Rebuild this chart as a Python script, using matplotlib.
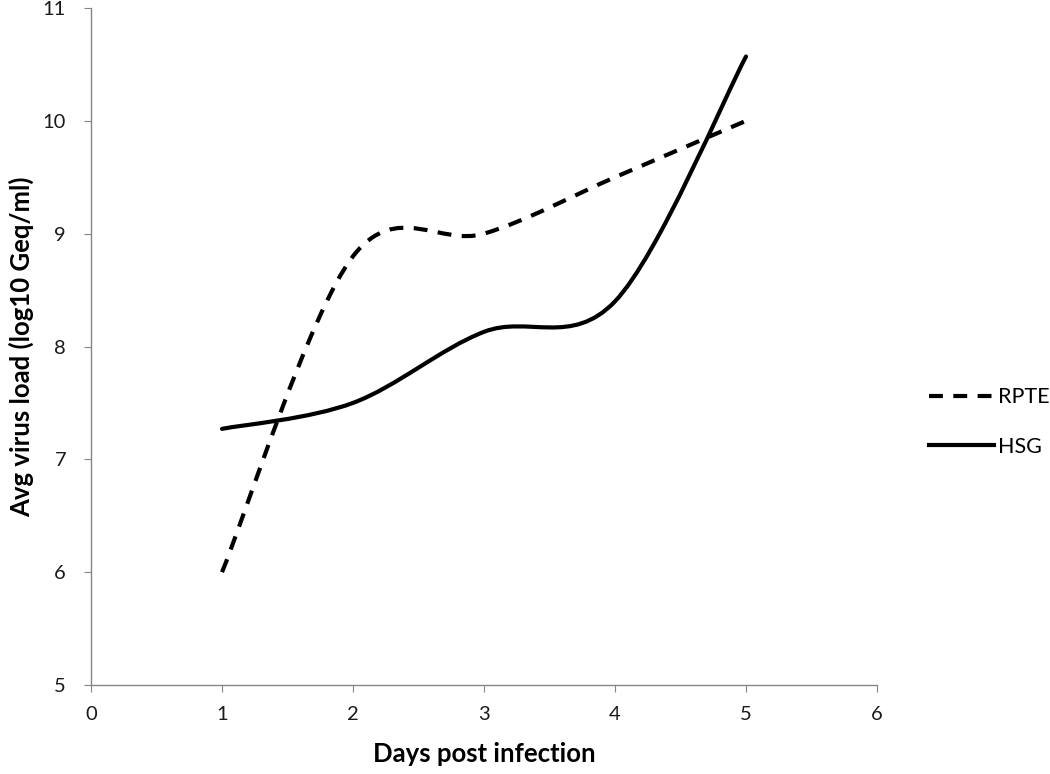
import matplotlib
matplotlib.use("Agg")
import matplotlib.pyplot as plt
from matplotlib.path import Path
from matplotlib.patches import PathPatch
from matplotlib.lines import Line2D

days = [1, 2, 3, 4, 5]
rpte = [6.0, 8.8, 9.0, 9.5, 10.0]
hsg = [7.27, 7.5, 8.13, 8.4, 10.57]

plt.rcParams['font.family'] = ['Lato', 'DejaVu Sans']
plt.rcParams['lines.scale_dashes'] = False


# smooth line like Excel's "smoothed line" (Catmull-Rom as bezier segments)
def smooth_path(xs, ys):
    pts = list(zip(xs, ys))
    verts = [pts[0]]
    codes = [Path.MOVETO]
    n = len(pts)
    for i in range(n - 1):
        p0 = pts[i - 1] if i > 0 else pts[i]
        p1 = pts[i]
        p2 = pts[i + 1]
        p3 = pts[i + 2] if i + 2 < n else pts[i + 1]
        c1 = (p1[0] + (p2[0] - p0[0]) / 6, p1[1] + (p2[1] - p0[1]) / 6)
        c2 = (p2[0] - (p3[0] - p1[0]) / 6, p2[1] - (p3[1] - p1[1]) / 6)
        verts += [c1, c2, p2]
        codes += [Path.CURVE4] * 3
    return Path(verts, codes)


fig = plt.figure(figsize=(10.5, 7.74), dpi=100)
ax = fig.add_axes([91 / 1050, 1 - 685 / 774, (877 - 91) / 1050, (685 - 8) / 774])

dash = (0, (10, 7.5))
ax.add_patch(PathPatch(smooth_path(days, rpte), fill=False, lw=3.0,
                       edgecolor='black', linestyle=dash, capstyle='butt'))
ax.add_patch(PathPatch(smooth_path(days, hsg), fill=False, lw=3.0,
                       edgecolor='black', capstyle='round'))

ax.set_xlim(0, 6)
ax.set_ylim(5, 11)
ax.set_xticks(range(0, 7))
ax.set_yticks(range(5, 12))

for s in ['top', 'right']:
    ax.spines[s].set_visible(False)
for s in ['left', 'bottom']:
    ax.spines[s].set_color('#868686')
    ax.spines[s].set_linewidth(1.0)
ax.tick_params(direction='out', length=5, color='#868686', labelsize=14.5,
               labelcolor='#1a1a1a')
ax.tick_params(axis='x', pad=10)
ax.tick_params(axis='y', pad=13)

ax.set_xlabel("Days post infection", fontsize=18.5, fontweight='bold', labelpad=14)
ax.set_ylabel("Avg virus load (log10 Geq/ml)", fontsize=18.5, fontweight='bold', labelpad=6)

handles = [Line2D([], [], color='black', lw=3.0, linestyle=dash),
           Line2D([], [], color='black', lw=3.0)]
fig.legend(handles, ["RPTE", "HSG"], loc='center left',
           bbox_to_anchor=(910 / 1050, 352 / 774), frameon=False,
           fontsize=15.5, handlelength=3.0, handletextpad=0.2, labelspacing=1.35)

fig.savefig("out.png", dpi=100)
